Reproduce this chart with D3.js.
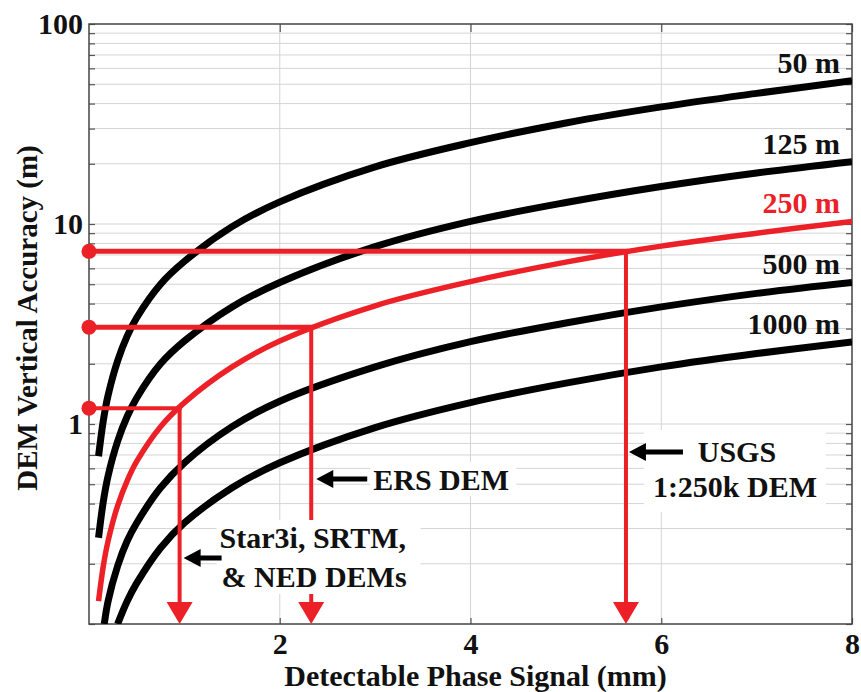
<!DOCTYPE html>
<html>
<head>
<meta charset="utf-8">
<script src="https://cdn.jsdelivr.net/npm/d3@7"></script>
<style>
  body { margin: 0; background: #fff; }
  text { font-family: "Liberation Serif", "Times New Roman", serif; font-weight: bold; }
</style>
</head>
<body>
<svg id="chart" width="861" height="692"></svg>
<script>
// --- Data ---
const phaseTicks = [2, 4, 6, 8];
const accuracyTicks = [1, 10, 100];

const curveNames = ["50 m", "125 m", "250 m", "500 m", "1000 m"];
const phase50 = [0.1, 0.15, 0.2, 0.3, 0.4, 0.5, 0.75, 1, 1.5, 2, 3, 4, 5, 6, 7, 8];
const acc50 = [0.69, 1.04, 1.39, 2.07, 2.75, 3.4, 5.0, 6.5, 9.7, 12.9, 19.3, 25.5, 32, 38.5, 45, 52];
const phase125 = [0.1, 0.15, 0.2, 0.3, 0.4, 0.5, 0.75, 1, 1.5, 2, 3, 4, 5, 6, 7, 8];
const acc125 = [0.27, 0.41, 0.55, 0.82, 1.09, 1.35, 2.0, 2.6, 3.85, 5.1, 7.7, 10.3, 12.8, 15.4, 18, 20.5];
const phase250 = [0.1, 0.15, 0.2, 0.3, 0.4, 0.5, 0.75, 1, 1.5, 2, 3, 4, 5, 6, 7, 8];
const acc250 = [0.13, 0.195, 0.26, 0.39, 0.52, 0.65, 0.97, 1.28, 1.93, 2.6, 3.9, 5.15, 6.45, 7.75, 9, 10.3];
const phase500 = [0.16, 0.2, 0.3, 0.4, 0.5, 0.75, 1, 1.5, 2, 3, 4, 5, 6, 7, 8];
const acc500 = [0.1, 0.13, 0.195, 0.26, 0.32, 0.48, 0.64, 0.97, 1.3, 1.93, 2.58, 3.2, 3.85, 4.5, 5.1];
const phase1000 = [0.3, 0.4, 0.5, 0.75, 1, 1.5, 2, 3, 4, 5, 6, 7, 8];
const acc1000 = [0.1, 0.13, 0.16, 0.24, 0.32, 0.48, 0.64, 0.96, 1.28, 1.6, 1.93, 2.25, 2.57];

const demNames = [["Star3i, SRTM,", "& NED DEMs"], ["ERS DEM"], ["USGS", "1:250k DEM"]];
const demPhase = [0.95, 2.33, 5.63];
const demAccuracy = [1.2, 3.05, 7.3];

// --- Setup ---
const red = "#ec2027";
const svg = d3.select("#chart");
const width = +svg.attr("width"),
  height = +svg.attr("height");
const margin = { top: 24, right: 9, bottom: 68, left: 89 };
const innerW = width - margin.left - margin.right,
  innerH = height - margin.top - margin.bottom;

const g = svg.append("g").attr("transform", `translate(${margin.left},${margin.top})`);

const x = d3.scaleLinear().domain([0, 8]).range([0, innerW]);
const y = d3.scaleLog().domain([0.1, 100]).range([innerH, 0]);

g.append("clipPath").attr("id", "plotClip")
  .append("rect").attr("width", innerW).attr("height", innerH);

// grid
const grid = g.append("g").attr("stroke", "#d4d4d4").attr("stroke-width", 1);
grid.selectAll(".hg")
  .data(y.ticks().filter((d) => d > 0.1 && d < 100))
  .join("line")
  .attr("x1", 0).attr("x2", innerW)
  .attr("y1", (d) => y(d)).attr("y2", (d) => y(d));
grid.selectAll(".vg")
  .data(phaseTicks.filter((d) => d < 8))
  .join("line")
  .attr("x1", (d) => x(d)).attr("x2", (d) => x(d))
  .attr("y1", 0).attr("y2", innerH);

// minor inward ticks, left and right
const tickStyle = (sel) => {
  sel.select(".domain").remove();
  sel.selectAll("line").attr("stroke", "#555").attr("stroke-width", 1.2);
};
g.append("g").call(d3.axisLeft(y).tickSize(-6).tickFormat("")).call(tickStyle);
g.append("g").attr("transform", `translate(${innerW},0)`)
  .call(d3.axisRight(y).tickSize(-6).tickFormat("")).call(tickStyle);
g.append("g").call(d3.axisTop(x).tickValues(phaseTicks).tickSize(-8).tickFormat("")).call(tickStyle);

// axes with labels
const yAxis = g.append("g")
  .call(d3.axisLeft(y).tickValues(accuracyTicks).tickFormat(d3.format("d")).tickSize(0).tickPadding(6));
yAxis.select(".domain").remove();
yAxis.selectAll("text").attr("font-size", 30).attr("fill", "#111")
  .style("font-family", "Liberation Serif").style("font-weight", "bold");

const xAxis = g.append("g").attr("transform", `translate(0,${innerH})`)
  .call(d3.axisBottom(x).tickValues(phaseTicks).tickSize(-6).tickPadding(9));
xAxis.select(".domain").remove();
xAxis.selectAll("line").attr("stroke", "#555").attr("stroke-width", 1.2);
xAxis.selectAll("text").attr("font-size", 30).attr("fill", "#111")
  .style("font-family", "Liberation Serif").style("font-weight", "bold");

// frame
g.append("rect").attr("width", innerW).attr("height", innerH)
  .attr("fill", "none").attr("stroke", "#444").attr("stroke-width", 1.5);

// axis titles
svg.append("text")
  .attr("x", margin.left + innerW / 2 + 5)
  .attr("y", 686)
  .attr("text-anchor", "middle")
  .attr("font-size", 30)
  .attr("fill", "#111")
  .text("Detectable Phase Signal (mm)");
svg.append("text")
  .attr("transform", `translate(37,${margin.top + innerH / 2 - 6}) rotate(-90)`)
  .attr("text-anchor", "middle")
  .attr("font-size", 29)
  .attr("fill", "#111")
  .text("DEM Vertical Accuracy (m)");

// --- Curves ---
const curves = [
  { name: curveNames[0], xs: phase50, ys: acc50, color: "#000", w: 7 },
  { name: curveNames[1], xs: phase125, ys: acc125, color: "#000", w: 7 },
  { name: curveNames[2], xs: phase250, ys: acc250, color: red, w: 5.5 },
  { name: curveNames[3], xs: phase500, ys: acc500, color: "#000", w: 7 },
  { name: curveNames[4], xs: phase1000, ys: acc1000, color: "#000", w: 7 },
];

const line = d3.line()
  .x((d) => x(d[0]))
  .y((d) => y(d[1]))
  .curve(d3.curveCatmullRom.alpha(0.5));

const curveG = g.append("g").attr("clip-path", "url(#plotClip)");
curveG.selectAll("path")
  .data(curves)
  .join("path")
  .attr("fill", "none")
  .attr("stroke", (d) => d.color)
  .attr("stroke-width", (d) => d.w)
  .attr("d", (d) => line(d.xs.map((v, i) => [v, d.ys[i]])));

g.append("g").selectAll("text")
  .data(curves)
  .join("text")
  .attr("x", innerW - 12)
  .attr("y", (d) => y(d.ys[d.ys.length - 1]) - 8)
  .attr("text-anchor", "end")
  .attr("font-size", 30)
  .attr("fill", (d) => (d.color === red ? red : "#111"))
  .text((d) => d.name);

// --- DEM accuracy markers ---
const dems = demNames.map((n, i) => ({ lines: n, px: demPhase[i], acc: demAccuracy[i] }));
const hw = [4, 5, 5];

const redG = g.append("g");
dems.forEach((d, i) => {
  const cx = x(d.px), cy = y(d.acc);
  redG.append("line")
    .attr("x1", 0).attr("x2", cx + 2).attr("y1", cy).attr("y2", cy)
    .attr("stroke", red).attr("stroke-width", hw[i]);
  redG.append("line")
    .attr("x1", cx).attr("x2", cx).attr("y1", cy).attr("y2", innerH - 18)
    .attr("stroke", red).attr("stroke-width", 4);
  redG.append("path")
    .attr("d", `M${cx - 13},${innerH - 22}L${cx + 13},${innerH - 22}L${cx},${innerH}Z`)
    .attr("fill", red);
  redG.append("circle")
    .attr("cx", 0).attr("cy", cy).attr("r", 7.5).attr("fill", red);
});

// --- Annotation boxes + arrows ---
function arrow(tipX, tipY, tailX) {
  g.append("line")
    .attr("x1", tipX + 12).attr("x2", tailX).attr("y1", tipY).attr("y2", tipY)
    .attr("stroke", "#000").attr("stroke-width", 5);
  g.append("path")
    .attr("d", `M${tipX},${tipY}L${tipX + 17},${tipY - 9}L${tipX + 17},${tipY + 9}Z`)
    .attr("fill", "#000");
}

const annG = g.append("g");
// Star3i / SRTM / NED
{
  const bx = x(demPhase[0]) + 40, by = 496;
  annG.append("rect").attr("x", bx - 3).attr("y", by).attr("width", 204).attr("height", 74).attr("fill", "#fff");
  demNames[0].forEach((t, k) => {
    annG.append("text").attr("x", bx + (k ? 2 : 0)).attr("y", 524 + k * 39)
      .attr("font-size", 30).attr("fill", "#111").text(t);
  });
  arrow(x(demPhase[0]) + 4, 534, x(demPhase[0]) + 42);
}
// ERS DEM
{
  const bx = x(demPhase[1]) + 62;
  annG.append("rect").attr("x", bx - 3).attr("y", 438).attr("width", 146).attr("height", 34).attr("fill", "#fff");
  annG.append("text").attr("x", bx).attr("y", 466)
    .attr("font-size", 30).attr("fill", "#111").text(demNames[1][0]);
  arrow(x(demPhase[1]) + 5, 455, x(demPhase[1]) + 56);
}
// USGS
{
  const cx = x(demPhase[2]) + 110;
  annG.append("rect").attr("x", cx - 92).attr("y", 406).attr("width", 182).attr("height", 82).attr("fill", "#fff");
  demNames[2].forEach((t, k) => {
    annG.append("text").attr("x", cx + (k ? -1 : 1)).attr("y", 438 + k * 35)
      .attr("text-anchor", "middle").attr("font-size", 30).attr("fill", "#111").text(t);
  });
  arrow(x(demPhase[2]) + 3, 428, x(demPhase[2]) + 57);
}
</script>
</body>
</html>
